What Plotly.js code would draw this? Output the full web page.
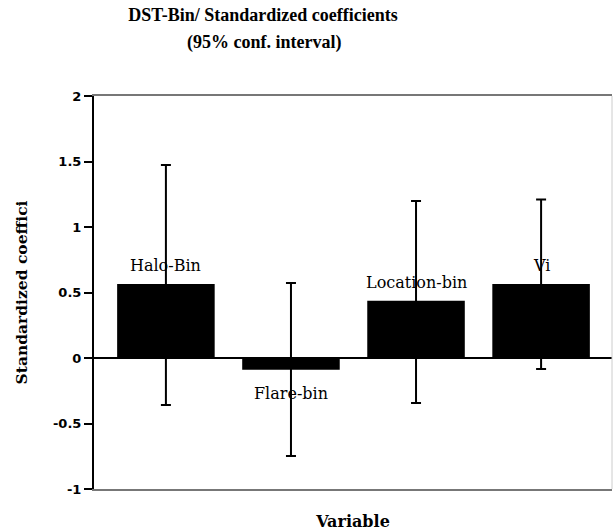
<!DOCTYPE html>
<html>
<head>
<meta charset="utf-8">
<script src="https://cdn.plot.ly/plotly-3.0.1.min.js"></script>
<style>html,body{margin:0;padding:0;background:#fff;}</style>
</head>
<body>
<div id="chart" style="width:613px;height:531px;"></div>
<script>
// Data
const categories = ["Halo-Bin", "Flare-bin", "Location-bin", "Vi"];
const coefficients = [0.565, -0.089, 0.437, 0.565];
const ciUpper = [1.473, 0.573, 1.198, 1.21];
const ciLower = [-0.359, -0.748, -0.343, -0.084];
const tickValues = [-1, -0.5, 0, 0.5, 1, 1.5, 2];
const tickLabels = ["-1", "-0.5", "0", "0.5", "1", "1.5", "2"];
const titleLine1 = "DST-Bin/ Standardized coefficients";
const titleLine2 = "(95% conf. interval)";

const errPlus = coefficients.map((v, i) => ciUpper[i] - v);
const errMinus = coefficients.map((v, i) => v - ciLower[i]);

const trace = {
  type: "bar",
  x: categories,
  y: coefficients,
  marker: {color: "#000000", line: {width: 0}},
  error_y: {
    type: "data",
    symmetric: false,
    array: errPlus,
    arrayminus: errMinus,
    color: "#000000",
    thickness: 2,
    width: 5
  },
  hoverinfo: "none"
};

const labelAnnotations = categories.map((c, i) => {
  const below = coefficients[i] < 0;
  return {
    x: c,
    y: coefficients[i],
    xref: "x",
    yref: "y",
    text: c,
    showarrow: false,
    yanchor: below ? "top" : "bottom",
    yshift: below ? -12 : 7,
    font: {family: "DejaVu Serif", size: 16, color: "#000"}
  };
});

const layout = {
  width: 613,
  height: 531,
  margin: {l: 94, r: 1, t: 96, b: 42, pad: 0},
  paper_bgcolor: "#ffffff",
  plot_bgcolor: "#ffffff",
  showlegend: false,
  bargap: 0.22,
  title: {
    text: "<b>" + titleLine1 + "</b>",
    x: 0.429,
    xref: "container",
    xanchor: "center",
    y: 0.972,
    yref: "container",
    yanchor: "middle",
    font: {family: "Liberation Serif", size: 18, color: "#000"}
  },
  xaxis: {
    range: [-0.575, 3.567],
    showticklabels: false,
    ticks: "",
    showgrid: false,
    zeroline: false,
    showline: true,
    linecolor: "#777",
    linewidth: 2,
    mirror: true,
    title: {
      text: "<b>Variable</b>",
      font: {family: "DejaVu Serif", size: 16, color: "#000"},
      standoff: 28
    }
  },
  yaxis: {
    range: [-1, 2],
    tickvals: tickValues,
    ticktext: tickLabels,
    ticks: "outside",
    ticklen: 8,
    tickwidth: 2,
    tickcolor: "#000",
    tickfont: {family: "DejaVu Sans", size: 13, color: "#000", weight: "bold"},
    showgrid: false,
    zeroline: true,
    zerolinecolor: "#000",
    zerolinewidth: 2,
    showline: true,
    linecolor: "#000",
    linewidth: 2,
    title: {
      text: "<b>Standardized coeffici</b>",
      font: {family: "DejaVu Serif", size: 15.5, color: "#000"},
      standoff: 22
    }
  },
  shapes: [{
    type: "line", xref: "paper", yref: "paper",
    x0: 1, x1: 1, y0: 0, y1: 1,
    line: {color: "#cccccc", width: 1}
  }],
  annotations: labelAnnotations.concat([{
    xref: "paper", yref: "paper",
    x: 0.328, y: 1.135,
    xanchor: "center", yanchor: "middle",
    text: "<b>" + titleLine2 + "</b>",
    showarrow: false,
    font: {family: "Liberation Serif", size: 18, color: "#000"}
  }])
};

Plotly.newPlot("chart", [trace], layout, {displayModeBar: false, staticPlot: true});
</script>
</body>
</html>
